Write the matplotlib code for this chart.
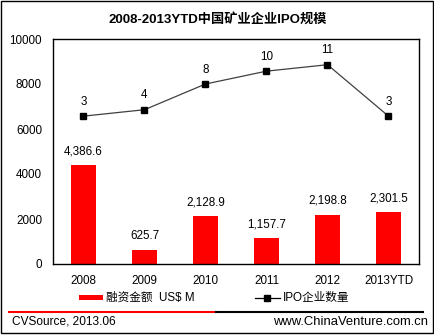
import matplotlib
matplotlib.use("Agg")
import matplotlib.pyplot as plt
from matplotlib.patches import Rectangle
from matplotlib.lines import Line2D

plt.rcParams['font.family'] = ['Liberation Sans', 'Noto Sans CJK SC', 'DejaVu Sans']

categories = ['2008', '2009', '2010', '2011', '2012', '2013YTD']
funding = [4386.6, 625.7, 2128.9, 1157.7, 2198.8, 2301.5]
ipo_count = [3, 4, 8, 10, 11, 3]
funding_labels = ['4,386.6', '625.7', '2,128.9', '1,157.7', '2,198.8', '2,301.5']
title = '2008-2013YTD中国矿业企业IPO规模'
legend_bar = '融资金额  US$ M'
legend_line = 'IPO企业数量'
source_left = 'CVSource, 2013.06'
source_right = 'www.ChinaVenture.com.cn'

W, H = 435, 335
fig = plt.figure(figsize=(W / 100, H / 100), dpi=100)

def fx(px):
    return px / W

def fy(py):
    return 1 - py / H

ax = fig.add_axes([fx(53), fy(264), fx(419) - fx(53), fy(39) - fy(264)])
x = list(range(len(categories)))
ax.bar(x, funding, width=0.4, color='#FF0000', zorder=2)
ax.set_xlim(-0.5, len(categories) - 0.5)
ax.set_ylim(0, 10000)
ax.set_yticks([0, 2000, 4000, 6000, 8000, 10000])
ax.set_xticks(x)
ax.set_xticklabels(categories)
ax.tick_params(axis='both', length=0, labelsize=8.4, colors='black')
ax.tick_params(axis='y', pad=8)
ax.tick_params(axis='x', pad=8)
for s in ax.spines.values():
    s.set_linewidth(1.0)
    s.set_color('black')
for xi, v, lab in zip(x, funding, funding_labels):
    ax.annotate(lab, (xi, v), xytext=(0, 5.5), textcoords='offset points',
                ha='center', va='bottom', fontsize=8.4)

ax2 = ax.twinx()
ax2.plot(x, ipo_count, color='#404040', linewidth=0.9, marker='s',
         markersize=4.5, markerfacecolor='black', markeredgecolor='black', zorder=3)
ax2.set_ylim(-20, 15)
ax2.set_yticks([])
for s in ax2.spines.values():
    s.set_visible(False)
for xi, v in zip(x, ipo_count):
    ax2.annotate(str(v), (xi, v), xytext=(0, 6), textcoords='offset points',
                 ha='center', va='bottom', fontsize=8.4)

fig.text(fx(218), fy(19), title, ha='center', va='center', fontsize=9.5,
         fontweight='bold')

# legend
fig.add_artist(Rectangle((fx(79), fy(300)), fx(103) - fx(79), fy(295) - fy(300),
                         transform=fig.transFigure, facecolor='#FF0000', edgecolor='none'))
fig.text(fx(106), fy(298), legend_bar, ha='left', va='center', fontsize=8.4)
fig.add_artist(Line2D([fx(255), fx(280)], [fy(298), fy(298)], transform=fig.transFigure,
                      color='black', linewidth=0.9))
fig.add_artist(Line2D([fx(267.5)], [fy(298)], transform=fig.transFigure,
                      color='black', marker='s', markersize=4.5, linestyle='none'))
fig.text(fx(283), fy(298), legend_line, ha='left', va='center', fontsize=8.4)

# footer
fig.add_artist(Line2D([fx(9), fx(216)], [fy(312), fy(312)], transform=fig.transFigure,
                      color='#FF0000', linewidth=1.5))
fig.add_artist(Line2D([fx(216), fx(423)], [fy(312), fy(312)], transform=fig.transFigure,
                      color='black', linewidth=1.5))
fig.text(fx(12), fy(322), source_left, ha='left', va='center', fontsize=8.6)
fig.text(fx(428), fy(322), source_right, ha='right', va='center', fontsize=9.4)

# outer border
fig.add_artist(Rectangle((fx(1), fy(333)), fx(433) - fx(1), fy(1) - fy(333),
                         transform=fig.transFigure, facecolor='none', edgecolor='black',
                         linewidth=1.0))

fig.savefig('out.png', dpi=100)
